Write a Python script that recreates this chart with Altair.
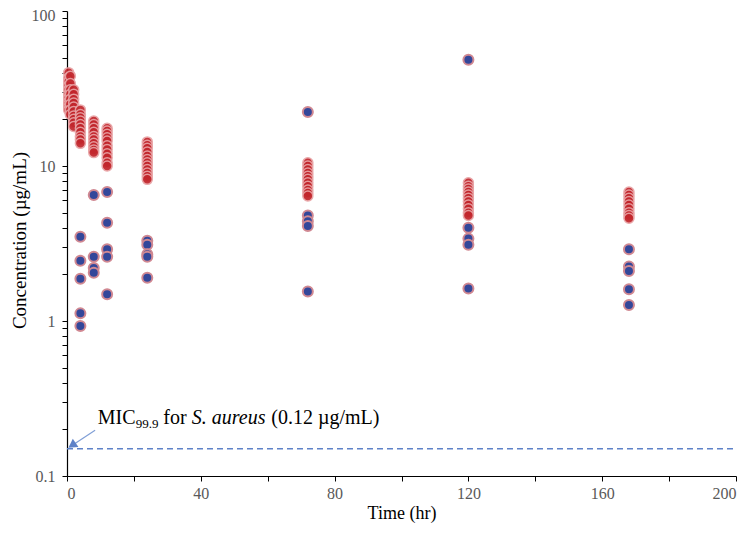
import altair as alt
import pandas as pd

# ---- data ----
red_times = [0.5, 1, 2, 4, 8, 12, 24, 72, 120, 168]
red_values = [
    [40, 37, 35, 33, 31, 29, 27.5, 26, 25, 24, 23],
    [38, 34, 31, 29, 27, 25, 23, 21.5],
    [31, 29, 27, 25.5, 24, 22.5, 21, 20, 19, 18],
    [23, 21.5, 20.5, 19.5, 18.5, 17.5, 16.5, 15.5, 14.8, 14],
    [19.5, 18.5, 17.5, 16.5, 15.5, 14.8, 14, 13.3, 12.7, 12.2],
    [17.5, 16.8, 16, 15.2, 14.5, 13.5, 12.8, 12, 11.3, 10.5, 10],
    [14.3, 13.6, 13, 12.3, 11.6, 11, 10.5, 10, 9.5, 9, 8.6, 8.2],
    [10.5, 10, 9.5, 9, 8.6, 8.2, 7.8, 7.4, 7, 6.7, 6.4],
    [7.8, 7.4, 7.1, 6.8, 6.5, 6.2, 5.9, 5.6, 5.3, 5, 4.8],
    [6.8, 6.5, 6.2, 5.9, 5.6, 5.3, 5.0, 4.8, 4.6],
]
blue_times = [4, 8, 12, 24, 72, 120, 168]
blue_values = [
    [3.5, 2.45, 1.87, 1.12, 0.93],
    [6.5, 2.6, 2.2, 2.05],
    [6.8, 4.3, 2.9, 2.6, 1.49],
    [3.3, 3.1, 2.7, 2.6, 1.9],
    [22.3, 4.8, 4.4, 4.1, 1.55],
    [48.5, 4.0, 3.4, 3.1, 1.62],
    [2.9, 2.25, 2.1, 1.6, 1.27],
]
mic_level = [0.15]
x_ticks = [0, 20, 40, 60, 80, 100, 120, 140, 160, 180, 200]
y_ticks = [0.1, 0.2, 0.3, 0.4, 0.5, 0.6, 0.7, 0.8, 0.9,
           1, 2, 3, 4, 5, 6, 7, 8, 9,
           10, 20, 30, 40, 50, 60, 70, 80, 90, 100]

rows = []
for t, vals in zip(red_times, red_values):
    for v in vals:
        rows.append({"time": t, "conc": v})
blue_rows = []
for t, vals in zip(blue_times, blue_values):
    for v in vals:
        blue_rows.append({"time": t, "conc": v})
red_df = pd.DataFrame(rows)
blue_df = pd.DataFrame(blue_rows)
mic_df = pd.DataFrame({"time": [0], "time2": [200], "conc": mic_level})

FONT = "Liberation Serif"
xscale = alt.Scale(domain=[0, 200], nice=False, zero=False)
yscale = alt.Scale(type="log", domain=[0.1, 100], nice=False)

x_axis = alt.Axis(values=x_ticks, labelExpr="datum.value % 40 == 0 ? datum.label : ''",
                  title="Time (hr)", grid=False, tickSize=5, labelPadding=4,
                  titleFontSize=18, titleY=42, titleBaseline="alphabetic",
                  titleFontWeight="normal")
y_axis = alt.Axis(values=y_ticks, format="~g",
                  labelExpr="abs(log(datum.value)/LN10 - round(log(datum.value)/LN10)) < 0.0001 ? datum.label : ''",
                  labelOffset={"condition": {"test": "datum.value >= 99", "value": 4}, "value": 0},
                  title="Concentration (µg/mL)", grid=False, tickSize=5, labelPadding=7,
                  titleFontSize=19, titleX=-38, titleY=229, titleAngle=270,
                  titleAlign="center", titleBaseline="bottom", titleFontWeight="normal")

X = alt.X("time:Q", scale=xscale, axis=x_axis)
Y = alt.Y("conc:Q", scale=yscale, axis=y_axis)

blue = alt.Chart(blue_df).mark_circle(size=100, color="#33479A", stroke="#D08892",
                                      strokeWidth=2, opacity=1).encode(x=X, y=Y)
red = alt.Chart(red_df).mark_circle(size=100, color="#C2262C", stroke="#E8A2A4",
                                    strokeWidth=1.5, opacity=0.92).encode(x=X, y=Y)
mic_line = alt.Chart(mic_df).mark_rule(color="#5E82C8", strokeDash=[6, 4], strokeWidth=1.5).encode(
    x=X, x2="time2:Q", y=Y,
)

one = pd.DataFrame({"a": [0]})
arrow_line = alt.Chart(one).mark_rule(color="#7F9ED6", strokeWidth=1.2).encode(
    x=alt.datum(8.4), x2=alt.datum(1.6),
    y=alt.datum(0.197), y2=alt.datum(0.158),
)
arrow_head = alt.Chart(one).mark_point(
    shape="triangle-up", filled=True, color="#5E82C8", size=100, angle=236, opacity=1).encode(
    x=alt.datum(1.5),
    y=alt.datum(0.158),
)

ax, ay = 9.2, 0.218
def seg(text, dx, size=20, dy=0, style="normal"):
    return alt.Chart(one).mark_text(
        text=text, align="left", baseline="alphabetic", dx=dx, dy=dy,
        font=FONT, fontSize=size, fontStyle=style, color="#000000").encode(
        x=alt.datum(ax), y=alt.datum(ay))

label = [
    seg("MIC", 0),
    seg("99.9", 38, size=13, dy=4),
    seg("for", 65.5),
    seg("S. aureus", 94, style="italic"),
    seg("(0.12 µg/mL)", 173.5),
]

chart = alt.layer(blue, red, mic_line, arrow_line, arrow_head, *label).properties(
    width=669, height=465, autosize="none",
    padding={"left": 59, "top": 3, "right": 6, "bottom": 49},
).configure_view(stroke=None).configure_axis(
    domainColor="#000000", tickColor="#000000", domainWidth=1.2, tickWidth=1,
    labelColor="#595959", labelFont=FONT, labelFontSize=16,
    titleColor="#000000", titleFont=FONT, titleFontWeight=400,
)

chart.save("out.html", embed_options={"renderer": "svg", "actions": False})
